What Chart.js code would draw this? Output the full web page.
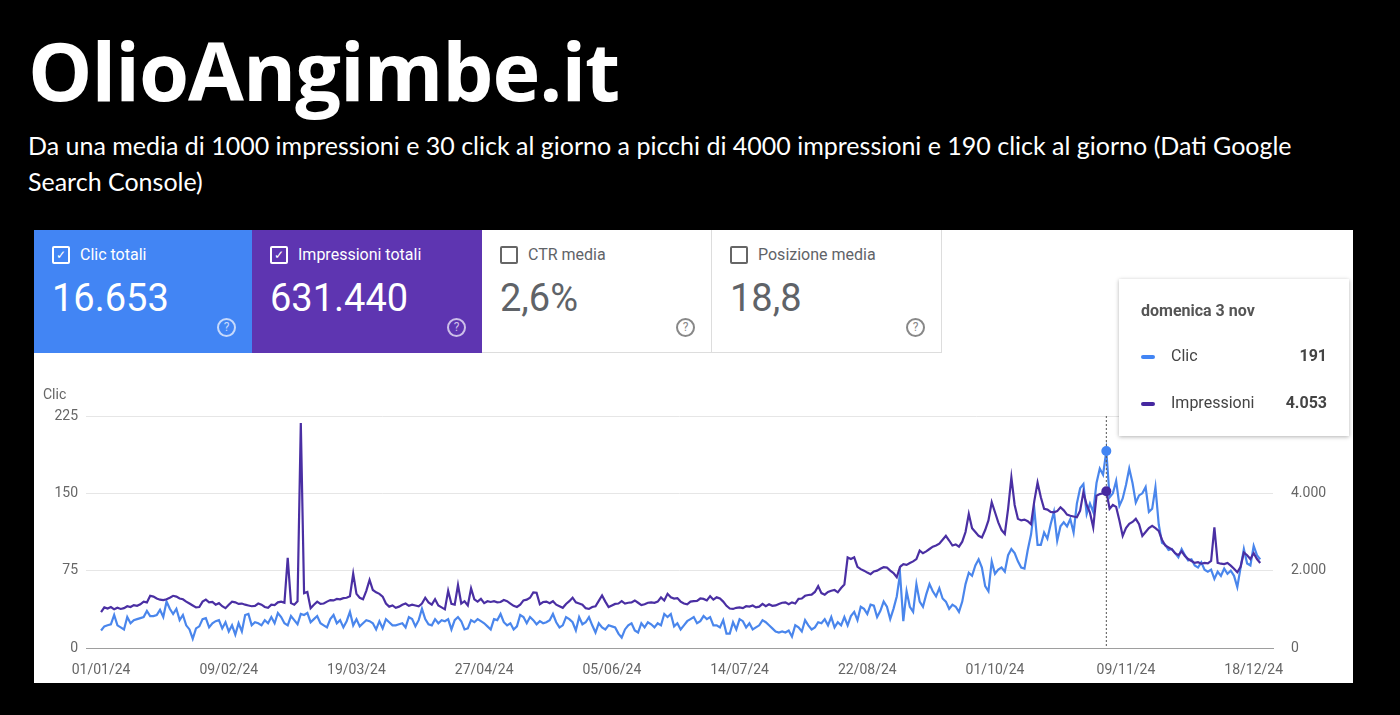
<!DOCTYPE html>
<html>
<head>
<meta charset="utf-8">
<script src="https://cdn.jsdelivr.net/npm/chart.js@4"></script>
<style>
  body { margin:0; width:1400px; height:715px; background:#000; position:relative; overflow:hidden; font-family:Roboto, sans-serif; }
  #title { position:absolute; left:28px; top:14px; color:#fff; font:700 81px "Open Sans", sans-serif; letter-spacing:-1px; }
  #sub { position:absolute; left:28px; top:127px; width:1335px; color:#fff; font:25px Lato, sans-serif; line-height:36px; }
  #panel { position:absolute; left:34px; top:230px; width:1319px; height:453px; background:#fff; }
  .card { position:absolute; top:0; height:123px; width:230px; box-sizing:border-box; }
  .card .lab { position:absolute; left:18px; top:15px; font-size:16px; display:flex; align-items:center; }
  .card .box { width:14px; height:14px; border:2px solid; border-radius:2px; margin-right:10px; position:relative; font-size:12px; line-height:14px; text-align:center; }
  .card .val { position:absolute; left:18px; top:46px; font-size:38px; }
  .card .q { position:absolute; right:16px; top:88px; width:15px; height:15px; border:2px solid; border-radius:50%; font-size:12px; text-align:center; line-height:15px; }
  #clicLab { position:absolute; left:9px; top:156px; font-size:14px; color:#666; }
  #chartBox { position:absolute; left:0; top:150px; width:1319px; height:303px; }
  #tip { position:absolute; left:1085px; top:49px; width:230px; height:157px; background:#fff; box-shadow:0 1px 4px rgba(0,0,0,.3); font-size:16px; color:#444; }
</style>
</head>
<body>
<div id="title">OlioAngimbe.it</div>
<div id="sub">Da una media di 1000 impressioni e 30 click al giorno a picchi di 4000 impressioni e 190 click al giorno (Dati Google Search Console)</div>
<div id="panel">
  <div class="card" style="left:0;background:#4285f4;color:#fff;width:218px">
    <div class="lab"><span class="box" style="border-color:#fff">&#10003;</span>Clic totali</div>
    <div class="val">16.653</div><div class="q" style="border-color:#c6d9fb;color:#c6d9fb">?</div>
  </div>
  <div class="card" style="left:218px;background:#5e35b1;color:#fff">
    <div class="lab"><span class="box" style="border-color:#fff">&#10003;</span>Impressioni totali</div>
    <div class="val">631.440</div><div class="q" style="border-color:#cdbfe8;color:#cdbfe8">?</div>
  </div>
  <div class="card" style="left:448px;color:#5f6368;border-right:1px solid #ddd;border-bottom:1px solid #ddd">
    <div class="lab"><span class="box" style="border-color:#666"></span>CTR media</div>
    <div class="val">2,6%</div><div class="q" style="border-color:#888;color:#888">?</div>
  </div>
  <div class="card" style="left:678px;color:#5f6368;border-right:1px solid #ddd;border-bottom:1px solid #ddd">
    <div class="lab"><span class="box" style="border-color:#666"></span>Posizione media</div>
    <div class="val">18,8</div><div class="q" style="border-color:#888;color:#888">?</div>
  </div>
  <div id="chartBox"><canvas id="c"></canvas></div>
  <div id="clicLab">Clic</div>
  <div id="tip">
    <div style="position:absolute;left:22px;top:22px;font-weight:700;color:#555">domenica 3 nov</div>
    <div style="position:absolute;left:22px;top:76px;width:14px;height:4px;background:#4285f4;border-radius:2px"></div>
    <div style="position:absolute;left:52px;top:67px">Clic</div>
    <div style="position:absolute;right:22px;top:67px;font-weight:700">191</div>
    <div style="position:absolute;left:22px;top:123px;width:14px;height:4px;background:#4527a0;border-radius:2px"></div>
    <div style="position:absolute;left:52px;top:114px">Impressioni</div>
    <div style="position:absolute;right:22px;top:114px;font-weight:700">4.053</div>
  </div>
</div>
<script>
// Clic giornalieri dal 01/01/24
const clicks = [
17,21,22,23,32,22,20,18,30,24, 27,28,29,30,36,31,31,32,37,30,
45,38,33,38,27,32,22,18,9,19, 21,28,29,20,24,26,27,19,25,16,
22,13,24,16,32,33,22,25,24,22, 27,24,30,24,34,30,24,22,31,27,
23,33,32,34,25,28,31,24,22,20, 28,32,24,27,20,26,35,22,28,21,
24,27,26,24,18,26,19,28,25,22, 22,23,24,20,30,28,21,27,38,28,
23,22,28,24,27,26,28,18,27,30, 26,18,19,27,25,28,26,24,21,18,
28,27,33,25,22,24,18,21,32,30, 24,30,27,23,26,24,25,27,33,25,
20,22,30,28,25,17,30,23,25,30, 22,15,24,20,18,22,21,20,14,10,
18,22,24,17,15,24,20,25,23,20, 24,22,33,30,33,21,24,18,22,26,
28,30,24,26,31,28,30,22,22,20, 27,14,14,25,18,28,26,20,24,18,
20,22,27,25,22,19,16,15,16,15, 17,11,22,20,16,27,22,18,20,25,
24,28,22,30,20,25,22,30,22,31, 35,27,40,38,33,42,41,30,36,45,
40,28,38,50,72,26,55,40,35,62, 45,40,52,62,55,50,58,48,45,38,
42,40,35,45,62,73,70,80,86,78, 60,55,84,72,76,78,74,90,96,92,
84,78,77,95,110,135,100,100,112,106, 120,132,104,118,122,118,125,112,140,155,
159,130,140,132,160,174,168,191,146,150, 162,138,145,158,174,160,141,148,150,156,
132,135,156,120,102,100,95,96,92,88, 96,90,85,86,80,78,83,76,74,76,
67,74,70,77,72,75,70,59,78,96, 82,80,99,90,86
];
// Impressioni giornaliere
const impressions = [
930,1050,1020,1060,1000,1040,1010,1030,1080,1060, 1110,1090,1130,1200,1180,1350,1330,1280,1250,1240,
1260,1300,1350,1330,1280,1260,1200,1150,1100,1050, 1060,1200,1250,1180,1190,1120,1160,1080,1030,1120,
1200,1180,1140,1150,1120,1100,1080,1090,1150,1120, 1060,1040,1120,1110,1180,1200,1170,2330,1160,1120,
1210,5820,1420,1450,1030,1120,1200,1140,1150,1200, 1240,1230,1270,1260,1290,1300,1340,1920,1400,1300,
1260,1480,1760,1500,1440,1400,1330,1150,1070,1100, 1040,1070,1120,1150,1090,1120,1100,1080,1150,1300,
1180,1120,1260,1100,1050,1000,1480,1140,1120,1630, 1150,1210,1100,1540,1260,1200,1270,1160,1210,1190,
1210,1180,1190,1240,1210,1150,1090,1060,1120,1230, 1250,1300,1440,1430,1130,1190,1200,1160,1210,1120,
1080,1040,1140,1210,1300,1180,1150,1120,1030,1010, 1060,1080,1220,1360,1200,1060,1100,1140,1150,1210,
1150,1170,1180,1230,1170,1110,1130,1170,1180,1170, 1200,1310,1230,1400,1310,1280,1290,1200,1150,1130,
1200,1210,1220,1280,1270,1230,1340,1250,1310,1280, 1200,1090,1020,1010,1040,1050,1030,1080,1070,1100,
1050,1070,1140,1080,1130,1090,1100,1140,1170,1180, 1130,1180,1150,1270,1280,1350,1370,1380,1450,1600,
1420,1380,1450,1480,1500,1440,1550,1640,2340,2300, 2345,2100,2040,2000,1950,1910,1980,2000,2050,2090,
2080,2000,1940,1830,2100,2170,2150,2200,2240,2300, 2520,2450,2500,2560,2620,2650,2700,2800,2900,2780,
2650,2680,2620,2750,3000,3465,3100,3000,2900,2860, 3050,3300,3770,3510,3250,3050,2950,3600,4410,3700,
3340,3300,3320,3280,3200,3800,4280,3900,3600,3580, 3520,3510,3540,3640,3560,3450,3420,3400,3380,3550,
4030,3700,3500,3120,3940,3980,4000,4053,3600,3700, 3650,3300,2900,3100,3210,3260,3340,3200,2900,3000,
3100,3160,3100,3030,2800,2650,2600,2550,2450,2400, 2500,2380,2300,2250,2200,2220,2180,2200,2190,2250,
3120,2200,2180,2170,2200,2130,2050,1960,2100,2470, 2400,2300,2450,2300,2200
];
const tickDays = [0, 39, 78, 117, 156, 195, 234, 273, 313, 352];
const tickLabels = ['01/01/24','09/02/24','19/03/24','27/04/24','05/06/24','14/07/24','22/08/24','01/10/24','09/11/24','18/12/24'];
const clicTicks = [0, 75, 150, 225];
const impTicks = [0, 2000, 4000, 6000];
const hoverDay = 307;

const clicPts = clicks.map((v, i) => ({x: i, y: v}));
const impPts = impressions.map((v, i) => ({x: i, y: v}));

const hoverLine = {
  id: 'hoverLine',
  afterDatasetsDraw(chart) {
    const {ctx, chartArea, scales} = chart;
    const x = scales.x.getPixelForValue(hoverDay);
    ctx.save();
    ctx.strokeStyle = '#555'; ctx.lineWidth = 1; ctx.setLineDash([2, 2]);
    ctx.beginPath(); ctx.moveTo(x, chartArea.top); ctx.lineTo(x, chartArea.bottom); ctx.stroke();
    ctx.setLineDash([]);
    [[scales.yL, clicks[hoverDay], '#4285f4'], [scales.yR, impressions[hoverDay], '#4527a0']].forEach(([s, v, c]) => {
      ctx.fillStyle = c; ctx.beginPath(); ctx.arc(x, s.getPixelForValue(v), 5, 0, Math.PI * 2); ctx.fill();
    });
    ctx.restore();
  }
};

new Chart(document.getElementById('c'), {
  type: 'line',
  data: {
    datasets: [
      { label: 'Impressioni', data: impPts, yAxisID: 'yR', borderColor: '#4a2fa3', borderWidth: 2.2, pointRadius: 0, tension: 0 },
      { label: 'Clic', data: clicPts, yAxisID: 'yL', borderColor: '#4a86ec', borderWidth: 2.2, pointRadius: 0, tension: 0 }
    ]
  },
  options: {
    responsive: true, maintainAspectRatio: false, animation: false,
    layout: { padding: { top: 36 } },
    plugins: { legend: { display: false }, tooltip: { enabled: false } },
    scales: {
      x: {
        type: 'linear', min: -4.6, max: 357.9,
        afterBuildTicks: s => { s.ticks = tickDays.map(v => ({value: v})); },
        afterFit: s => { s.height = 35; },
        ticks: { callback: (v) => tickLabels[tickDays.indexOf(v)], color: '#666', font: {family: 'Roboto', size: 14}, maxRotation: 0, autoSkip: false, padding: 6 },
        grid: { display: false }, border: { color: '#9e9e9e' }
      },
      yL: {
        position: 'left', min: 0, max: 225,
        afterBuildTicks: s => { s.ticks = clicTicks.map(v => ({value: v})); },
        afterFit: s => { s.width = 52; },
        ticks: { color: '#666', font: {family: 'Roboto', size: 14}, padding: 8 },
        grid: { color: c => c.tick.value === 0 ? '#9e9e9e' : '#e6e6e6', drawTicks: false },
        border: { display: false }
      },
      yR: {
        position: 'right', min: 0, max: 6000,
        afterBuildTicks: s => { s.ticks = impTicks.map(v => ({value: v})); },
        afterFit: s => { s.width = 80; },
        ticks: { color: '#666', font: {family: 'Roboto', size: 14}, padding: 10,
          callback: v => v.toLocaleString('it-IT') },
        grid: { display: false }, border: { display: false }
      }
    }
  },
  plugins: [hoverLine]
});
</script>
</body>
</html>
